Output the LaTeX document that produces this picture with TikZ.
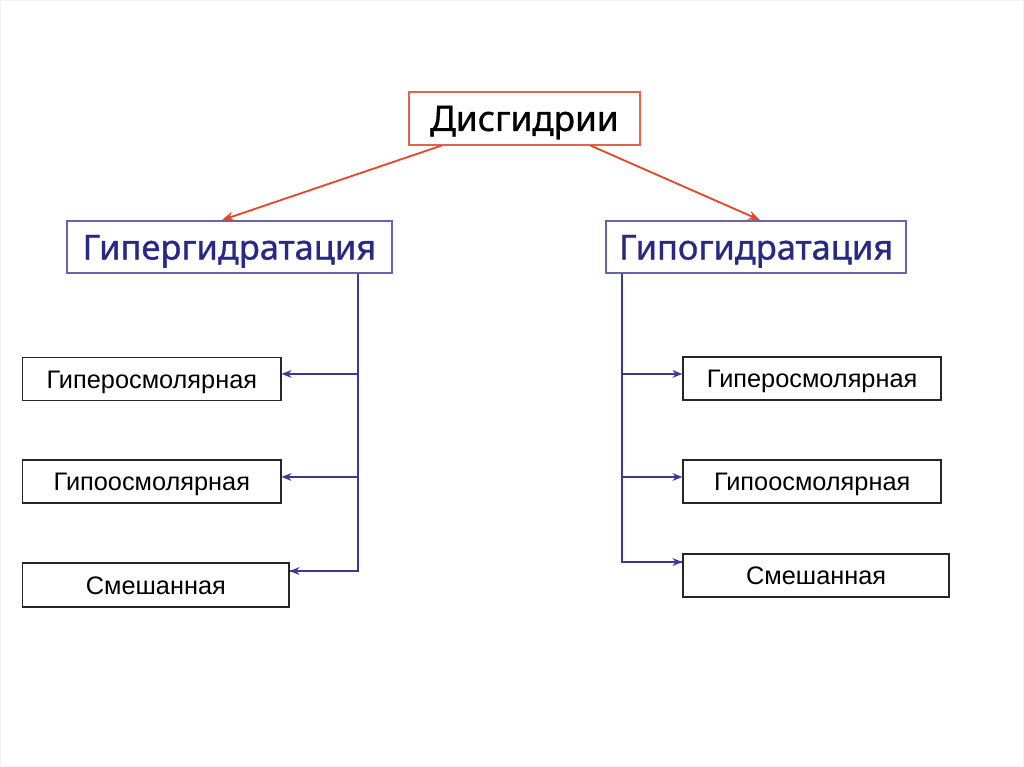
\documentclass[tikz,border=0pt]{standalone}
\usepackage{fontspec}
\setmainfont{Liberation Sans}
\newfontfamily\headfont[FakeBold=0.9]{Noto Sans}
\usetikzlibrary{calc, arrows.meta}

\definecolor{redline}{RGB}{232,70,40}
\definecolor{redbox}{RGB}{226,100,80}
\definecolor{blueline}{RGB}{58,58,150}
\definecolor{bluebox}{RGB}{100,100,175}
\definecolor{bluetext}{RGB}{40,40,135}

\begin{document}
\begin{tikzpicture}[x=0.025cm, y=-0.025cm,
    topbox/.style={draw=redbox, line width=1.1pt, inner sep=0pt, minimum width=231*0.025cm, minimum height=53*0.025cm, text height=18pt, text depth=0pt, font=\headfont\fontsize{25pt}{28pt}\selectfont},
    midbox/.style={draw=bluebox, line width=1.1pt, inner sep=0pt, minimum height=52*0.025cm, text height=18pt, text depth=0pt, text=bluetext, font=\headfont\fontsize{24.5pt}{28pt}\selectfont},
    kindbox/.style={draw=black!85, line width=1pt, inner sep=0pt, minimum width=258*0.025cm, minimum height=43*0.025cm, text height=12.9pt, text depth=0pt, font=\fontsize{18pt}{21pt}\selectfont},
    redarrow/.style={draw=redline, line width=1.3pt, -{Stealth[length=8.5pt, width=6.5pt]}},
    bluearrow/.style={draw=blueline, line width=1.3pt, -{Stealth[length=7pt, width=5.5pt]}}]

    % frame
    \path[draw=black!5] (0.5,0.5) rectangle (1023.5,766.5);

    % Draw nodes
    \node[topbox] (dis) at (524.5,118.5) {Дисгидрии};
    \node[midbox, minimum width=325*0.025cm] (hyper) at (229.5,247) {Гипергидратация};
    \node[midbox, minimum width=300*0.025cm] (hypo) at (756,247) {Гипогидратация};

    \node[kindbox] (lhyper) at (152,379) {Гиперосмолярная};
    \node[kindbox] (lhypo) at (152,481.5) {Гипоосмолярная};
    \node[kindbox, minimum width=266*0.025cm, minimum height=44*0.025cm] (lmix) at (156,585) {Смешанная};

    \node[kindbox] (rhyper) at (812,378.5) {Гиперосмолярная};
    \node[kindbox] (rhypo) at (812,481.5) {Гипоосмолярная};
    \node[kindbox, minimum width=266*0.025cm] (rmix) at (816,575.5) {Смешанная};

    % Draw arrows
    \draw[redarrow] ($(dis.south west)!0.143!(dis.south east)$) -- ($(hyper.north west)!0.477!(hyper.north east)$);
    \draw[redarrow] ($(dis.south west)!0.784!(dis.south east)$) -- ($(hypo.north west)!0.513!(hypo.north east)$);

    \coordinate (ltrunk) at ($(hyper.south east)+(-35,0)$);
    \coordinate (rtrunk) at ($(hypo.south west)+(17,0)$);

    \draw[blueline, line width=1.3pt] (ltrunk) |- ($(lmix.east)+(0,-14)$);
    \draw[bluearrow] (ltrunk |- lhyper.east) ++(0,-5) -- ($(lhyper.east)+(0,-5)$);
    \draw[bluearrow] (ltrunk |- lhypo.east) ++(0,-4.5) -- ($(lhypo.east)+(0,-4.5)$);
    \draw[bluearrow] (ltrunk |- lmix.east) ++(0,-14) -- ($(lmix.east)+(0,-14)$);

    \draw[blueline, line width=1.3pt] (rtrunk) |- ($(rmix.west)+(0,-13.5)$);
    \draw[bluearrow] (rtrunk |- rhyper.west) ++(0,-4.5) -- ($(rhyper.west)+(0,-4.5)$);
    \draw[bluearrow] (rtrunk |- rhypo.west) ++(0,-4.5) -- ($(rhypo.west)+(0,-4.5)$);
    \draw[bluearrow] (rtrunk |- rmix.west) ++(0,-13.5) -- ($(rmix.west)+(0,-13.5)$);

\end{tikzpicture}
\end{document}
